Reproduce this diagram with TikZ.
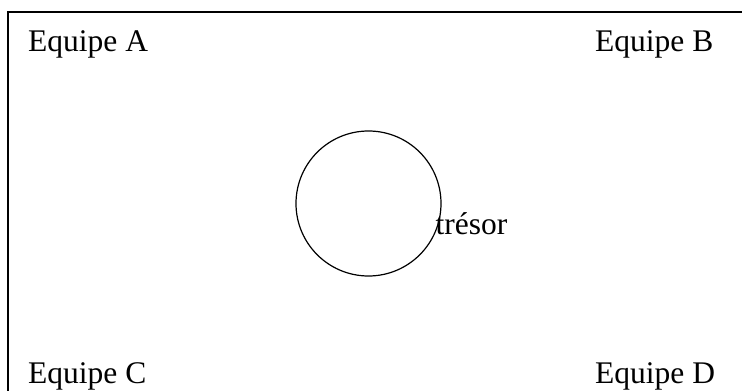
\documentclass[tikz,border=0pt]{standalone}
\usepackage{fontspec}
\setmainfont{Liberation Serif}
\begin{document}
\begin{tikzpicture}[x=1pt,y=1pt,
  lbl/.style={anchor=base west,inner sep=0pt,font=\fontsize{31.5}{38}\selectfont},
  frame/.style={line width=2pt},
  ring/.style={draw,circle,line width=1.2pt,minimum size=145pt,inner sep=0pt}]
\useasboundingbox (0,0) rectangle (742,391);
\draw[frame] (8,-2) |- (745,379);
\node[lbl] (a) at (28,339) {Equipe A};
\node[lbl] (b) at (595,339) {Equipe B};
\node[lbl] (c) at (28,7) {Equipe C};
\node[lbl] (d) at (595,7) {Equipe D};
\node[ring] (t) at (368.5,187.5) {};
\node[lbl] (tl) at (435.5,156) {trésor};
\end{tikzpicture}
\end{document}
